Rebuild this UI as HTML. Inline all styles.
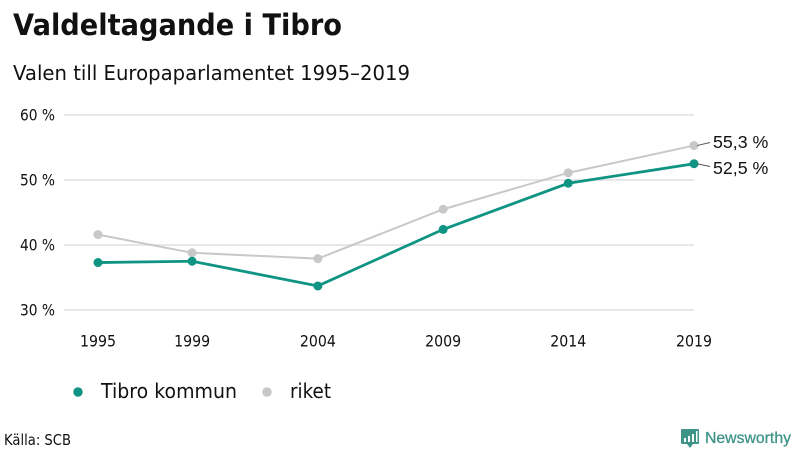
<!DOCTYPE html>
<html lang="sv">
<head>
<meta charset="utf-8">
<title>Valdeltagande i Tibro</title>
<style>
html,body{margin:0;padding:0;background:#fff}
svg{display:block}
text{font-family:"DejaVu Sans","Liberation Sans",sans-serif;fill:#111}
</style>
</head>
<body>
<svg id="chart" width="800" height="450" viewBox="0 0 800 450" xmlns="http://www.w3.org/2000/svg">
<text x="13" y="35" font-size="29" font-weight="700" textLength="329" lengthAdjust="spacingAndGlyphs">Valdeltagande i Tibro</text>
<text x="13" y="80" font-size="20.5" textLength="397" lengthAdjust="spacingAndGlyphs">Valen till Europaparlamentet 1995–2019</text>
<g id="grid"></g>
<g id="series"></g>
<g id="labels"></g>
<circle cx="78" cy="392" r="4.7" fill="#0f9484"/>
<text x="101" y="398" font-size="20" textLength="136" lengthAdjust="spacingAndGlyphs">Tibro kommun</text>
<circle cx="267" cy="392" r="4.7" fill="#c8c8c8"/>
<text x="290" y="398" font-size="20" textLength="41" lengthAdjust="spacingAndGlyphs">riket</text>
<text x="4" y="445" font-size="15" textLength="67" lengthAdjust="spacingAndGlyphs">Källa: SCB</text>
<g>
<path d="M682 429H698Q699 429 699 430V443Q699 444 698 444H693L690 448L687 444H682Q681 444 681 443V430Q681 429 682 429Z" fill="#3f9488"/>
<rect x="684" y="438" width="2" height="4" fill="#fff"/>
<rect x="688" y="436" width="2" height="6" fill="#fff"/>
<rect x="692" y="434" width="2" height="8" fill="#fff"/>
<rect x="696" y="431" width="1.5" height="11" fill="#fff"/>
<text x="705" y="443" font-size="16" textLength="86" lengthAdjust="spacingAndGlyphs" stroke="#3f9488" stroke-width="0.3" style="fill:#3f9488;font-family:'Liberation Sans',sans-serif">Newsworthy</text>
</g>
</svg>
<script>
// Election dates as decimal years (1995-09-17, 1999-06-13, 2004-06-13, ...)
const electionDates = [1995.71, 1999.45, 2004.45, 2009.43, 2014.40, 2019.40];
const yearLabels = ["1995", "1999", "2004", "2009", "2014", "2019"];
const tibroValues = [37.3, 37.5, 33.7, 42.4, 49.5, 52.5];
const riketValues = [41.6, 38.8, 37.9, 45.5, 51.1, 55.3];
const yTicks = [30, 40, 50, 60];

const NS = 'http://www.w3.org/2000/svg';
function xScale(d){
  const a = electionDates[0], b = electionDates[electionDates.length - 1];
  return 98 + (d - a) / (b - a) * 596;
}
function yScale(v){ return 310 - (v - 30) * 6.5; }
function make(tag, attrs, parent){
  const el = document.createElementNS(NS, tag);
  for (const k in attrs) el.setAttribute(k, attrs[k]);
  parent.appendChild(el);
  return el;
}
const grid = document.getElementById('grid');
const seriesG = document.getElementById('series');
const labels = document.getElementById('labels');

yTicks.forEach(function(t){
  const line = make('line', {x1: 64, x2: 694, y1: yScale(t), y2: yScale(t), stroke: '#e3e3e8', 'stroke-width': 1.7}, grid);
  
  
  const txt = make('text', {x: 55, y: yScale(t) + 5.5, 'text-anchor': 'end', 'font-size': 16, textLength: 35, lengthAdjust: 'spacingAndGlyphs'}, labels);
  
  
  txt.textContent = t + ' %';
});

yearLabels.forEach(function(lbl, i){
  const txt = make('text', {x: xScale(electionDates[i]), y: 346.5, 'text-anchor': 'middle', 'font-size': 16, textLength: 36, lengthAdjust: 'spacingAndGlyphs'}, labels);
  
  
  txt.textContent = lbl;
});

function drawSeries(values, color, width, name){
  const pts = values.map(function(v, i){ return xScale(electionDates[i]) + ',' + yScale(v); }).join(' ');
  const line = make('polyline', {points: pts, fill: 'none', stroke: color, 'stroke-width': width}, seriesG);
  
  
  values.forEach(function(v, i){
    const c = make('circle', {cx: xScale(electionDates[i]), cy: yScale(v), r: 4.5, fill: color}, seriesG);
    
    
  });
}
drawSeries(riketValues, '#c8c8c8', 2, 'riket');
drawSeries(tibroValues, '#0f9484', 2.8, 'tibro');

function endLabel(values, labelY, leadEndY, name){
  const v = values[values.length - 1];
  const px = xScale(electionDates[electionDates.length - 1]);
  const py = yScale(v);
  const lead = make('line', {x1: px + 3, y1: py, x2: 710, y2: leadEndY, stroke: '#555', 'stroke-width': 1}, labels);
  
  
  const txt = make('text', {x: 713, y: labelY, 'font-size': 17.8}, labels);
  
  
  txt.setAttribute('style', "font-family:'Liberation Sans',sans-serif");
  txt.textContent = v.toFixed(1).replace('.', ',') + ' %';
}
endLabel(riketValues, 148, 142.5, 'riket');
endLabel(tibroValues, 174, 166.5, 'tibro');
</script>
</body>
</html>
